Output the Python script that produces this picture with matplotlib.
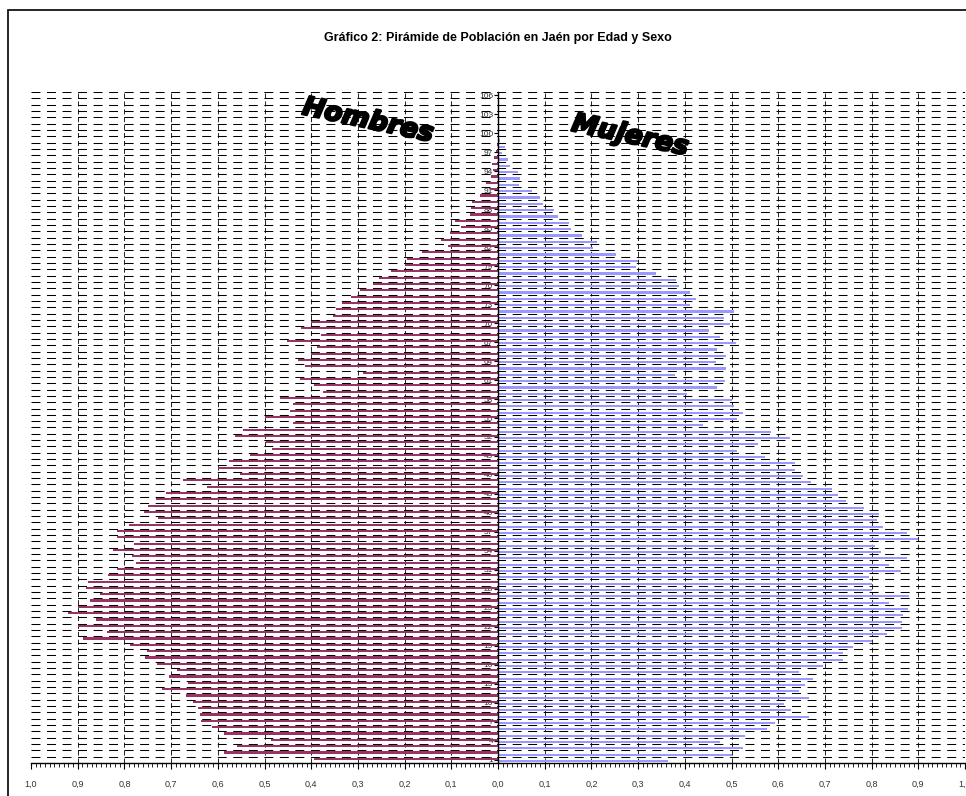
import matplotlib

matplotlib.use("Agg")
import matplotlib.pyplot as plt
import matplotlib.patheffects as pe
import numpy as np
from matplotlib.patches import Rectangle
from matplotlib.ticker import FixedLocator, MultipleLocator

# population share (%) by age
AGES = list(range(1, 107))
HOMBRES = [
    0.393, 0.587, 0.559, 0.487, 0.587, 0.612, 0.637, 0.639, 0.643, 0.654,
    0.669, 0.719, 0.663, 0.704, 0.688, 0.730, 0.755, 0.752, 0.788, 0.888,
    0.838, 0.900, 0.860, 0.921, 0.900, 0.874, 0.853, 0.883, 0.879, 0.835,
    0.815, 0.775, 0.784, 0.825, 0.780, 0.816, 0.815, 0.790, 0.727, 0.757,
    0.750, 0.733, 0.710, 0.623, 0.674, 0.552, 0.599, 0.576, 0.530, 0.485,
    0.497, 0.563, 0.545, 0.439, 0.498, 0.446, 0.438, 0.466, 0.375, 0.393,
    0.425, 0.290, 0.414, 0.429, 0.400, 0.387, 0.451, 0.378, 0.421, 0.400,
    0.354, 0.347, 0.333, 0.314, 0.296, 0.268, 0.254, 0.229, 0.200, 0.194,
    0.162, 0.108, 0.121, 0.102, 0.080, 0.092, 0.060, 0.058, 0.056, 0.038,
    0.018, 0.025, 0.014, 0.011, 0.012, 0.009, 0.004, 0.003, 0.001, 0.0,
    0.0, 0.0, 0.0, 0.0, 0.0, 0.0,
]
MUJERES = [
    0.364, 0.502, 0.524, 0.476, 0.529, 0.575, 0.594, 0.665, 0.628, 0.613,
    0.665, 0.645, 0.657, 0.674, 0.645, 0.696, 0.739, 0.738, 0.761, 0.800,
    0.833, 0.865, 0.865, 0.867, 0.879, 0.838, 0.880, 0.800, 0.800, 0.794,
    0.863, 0.838, 0.875, 0.820, 0.807, 0.900, 0.875, 0.825, 0.811, 0.816,
    0.783, 0.745, 0.727, 0.716, 0.670, 0.653, 0.637, 0.635, 0.571, 0.512,
    0.557, 0.625, 0.585, 0.438, 0.511, 0.525, 0.506, 0.502, 0.405, 0.470,
    0.487, 0.379, 0.489, 0.466, 0.489, 0.470, 0.509, 0.475, 0.451, 0.496,
    0.483, 0.506, 0.411, 0.423, 0.412, 0.388, 0.382, 0.338, 0.296, 0.300,
    0.252, 0.204, 0.211, 0.180, 0.157, 0.151, 0.129, 0.120, 0.097, 0.091,
    0.072, 0.046, 0.048, 0.042, 0.026, 0.022, 0.009, 0.014, 0.005, 0.002,
    0.002, 0.0, 0.0, 0.0, 0.0, 0.0,
]
Y_TICKS = list(range(1, 107, 3))
X_TICKS = [-1.0, -0.9, -0.8, -0.7, -0.6, -0.5, -0.4, -0.3, -0.2, -0.1, 0.0,
           0.1, 0.2, 0.3, 0.4, 0.5, 0.6, 0.7, 0.8, 0.9, 1.0]
X_TICK_LABELS = ["1,0", "0,9", "0,8", "0,7", "0,6", "0,5", "0,4", "0,3", "0,2", "0,1", "0,0",
                 "0,1", "0,2", "0,3", "0,4", "0,5", "0,6", "0,7", "0,8", "0,9", "1,0"]

MAGENTA = "#993366"
LAVENDER = "#9999ff"
INK = "#000000"
LABEL_GRAY = "#333333"

plt.rcParams["font.family"] = ["Liberation Sans", "DejaVu Sans"]

fig = plt.figure(figsize=(9.66, 7.96), dpi=100, facecolor="white")
ax = fig.add_axes([31 / 966, 1 - 763 / 796, 934 / 966, 671 / 796])

ages = np.array(AGES)
hombres = np.array(HOMBRES)
mujeres = np.array(MUJERES)

# grid: dashed row separators and dashed verticals every 0.1
for yb in np.arange(0.5, 107, 1.0):
    ax.axhline(yb, color=INK, lw=0.75, ls=(0, (8.6, 6.3)), zorder=1)
for xv in X_TICKS:
    if abs(xv) < 1e-9 or abs(abs(xv) - 1.0) < 1e-9:
        continue
    ax.axvline(xv, color=INK, lw=0.6, ls=(0, (6.0, 3.5)), zorder=1)

ax.barh(ages + 0.16, -hombres, height=0.34, color=MAGENTA, linewidth=0, zorder=2)
ax.barh(ages - 0.17, mujeres, height=0.34, color=LAVENDER, linewidth=0, zorder=2)

ax.set_xlim(-1.0, 1.0)
ax.set_ylim(0.5, 106.5)

for side in ("top", "right"):
    ax.spines[side].set_visible(False)
ax.spines["left"].set_position(("data", 0))
ax.spines["left"].set_color(INK)
ax.spines["left"].set_linewidth(1.0)
ax.spines["left"].set_zorder(3)
ax.spines["bottom"].set_color(INK)
ax.spines["bottom"].set_linewidth(1.0)

ax.xaxis.set_major_locator(FixedLocator(X_TICKS))
ax.set_xticklabels(X_TICK_LABELS)
ax.xaxis.set_minor_locator(MultipleLocator(0.01))
ax.tick_params(axis="x", which="major", length=4, width=0.8, color=INK,
               labelsize=6.5, labelcolor=LABEL_GRAY, pad=8)
ax.tick_params(axis="x", which="minor", length=3, width=0.6, color=INK)

ax.set_yticks(Y_TICKS)
ax.set_yticklabels([str(a) for a in Y_TICKS])
ax.tick_params(axis="y", which="major", length=3, width=0.8, color=INK,
               labelsize=6, labelcolor=LABEL_GRAY, pad=0.5)
for lbl in ax.get_yticklabels():
    lbl.set_zorder(4)

fig.text(498 / 966, 1 - 38 / 796, "Gráfico 2: Pirámide de Población en Jaén por Edad y Sexo",
         ha="center", va="center", fontsize=9, fontweight="bold", color=INK)

heavy = [pe.withStroke(linewidth=1.6, foreground=INK)]
fig.text(368 / 966, 1 - 121 / 796, "Hombres", ha="center", va="center", rotation=-12,
         fontsize=19, fontweight="bold", fontstyle="italic", family="DejaVu Sans",
         color=INK, path_effects=heavy)
fig.text(630 / 966, 1 - 136 / 796, "Mujeres", ha="center", va="center", rotation=-12,
         fontsize=19, fontweight="bold", fontstyle="italic", family="DejaVu Sans",
         color=INK, path_effects=heavy)

# chart-area frame, only its top-left corner is inside the picture
fig.patches.append(Rectangle((8 / 966, -0.1), 1.2, 1 - 10 / 796 + 0.1, transform=fig.transFigure,
                             fill=False, edgecolor=INK, linewidth=1.2))

fig.savefig("out.png", dpi=100, facecolor="white")
